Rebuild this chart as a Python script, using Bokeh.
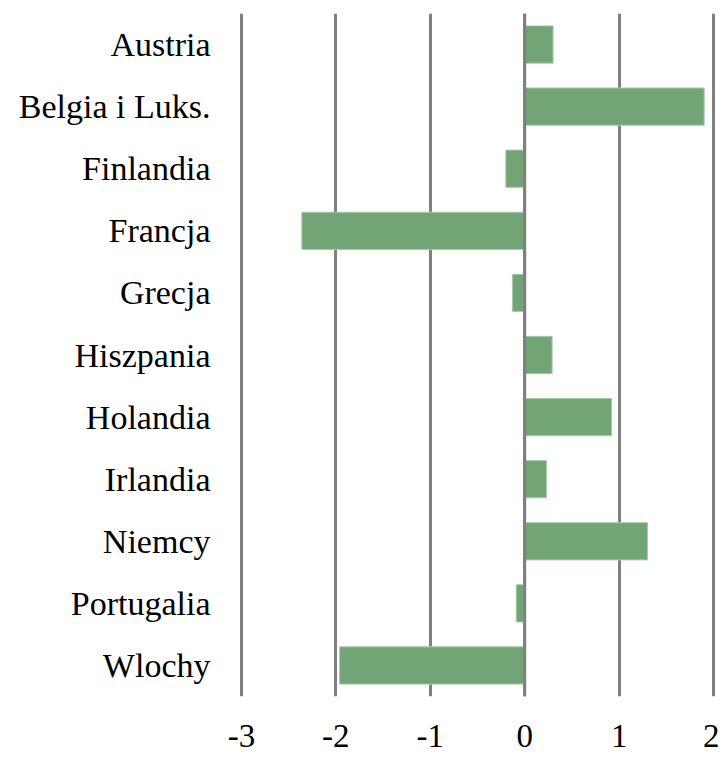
from bokeh.plotting import figure
from bokeh.models import FactorRange, Range1d, FixedTicker, Span
from bokeh.embed import file_html
from bokeh.resources import INLINE

countries = ["Austria", "Belgia i Luks.", "Finlandia", "Francja", "Grecja", "Hiszpania",
             "Holandia", "Irlandia", "Niemcy", "Portugalia", "Wlochy"]
values = [0.30, 1.90, -0.20, -2.36, -0.13, 0.29, 0.92, 0.23, 1.30, -0.09, -1.96]
x_ticks = [-3, -2, -1, 0, 1, 2]

FONT = "'Liberation Serif', serif"

p = figure(width=719, height=757, output_backend="svg", toolbar_location=None,
           y_range=FactorRange(factors=list(reversed(countries)), range_padding=0),
           x_range=Range1d(-3.02, 2.02))
p.min_border_left = 239
p.min_border_right = 4
p.min_border_top = 13
p.min_border_bottom = 61
p.outline_line_color = None
p.background_fill_color = "white"
p.border_fill_color = "white"

p.hbar(y=countries, right=values, left=0, height=0.6,
       fill_color="#72a576", line_color="#a9cbaa", line_width=1)

zero = Span(location=0, dimension="height", line_color="#808080", line_width=3)
p.add_layout(zero)

p.xaxis.ticker = FixedTicker(ticks=x_ticks)
p.xaxis.major_label_overrides = {t: str(t) for t in x_ticks}
p.xgrid.ticker = FixedTicker(ticks=x_ticks)
p.xgrid.grid_line_color = "#808080"
p.xgrid.grid_line_width = 3
p.ygrid.grid_line_color = None

for ax in (p.xaxis, p.yaxis):
    ax.axis_line_color = None
    ax.major_tick_line_color = None
    ax.minor_tick_line_color = None
    ax.major_label_text_font = FONT
    ax.major_label_text_color = "black"

p.yaxis.major_label_text_font_size = "34px"
p.xaxis.major_label_text_font_size = "33px"
p.xaxis.major_label_standoff = 22
p.yaxis.major_label_standoff = 23

open("out.html", "w").write(file_html(p, INLINE))
